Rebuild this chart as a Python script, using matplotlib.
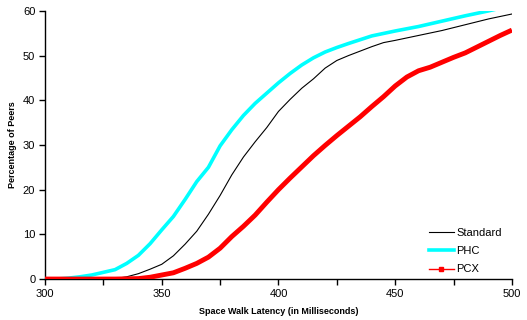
import matplotlib
matplotlib.use("Agg")
import matplotlib.pyplot as plt
from matplotlib.lines import Line2D
from matplotlib.ticker import MultipleLocator

plt.rcParams['font.family'] = ['Liberation Sans', 'DejaVu Sans']

# Data (latency in ms, cumulative % of peers)
std_x = [300, 320, 330, 335, 340, 345, 350, 355, 360, 365, 370, 375, 380, 385, 390, 395,
         400, 405, 410, 415, 420, 425, 430, 435, 440, 445, 450, 460, 470, 480, 490, 500]
std_y = [0, 0, 0.1, 0.5, 1.2, 2.2, 3.3, 5.2, 7.8, 10.7, 14.5, 18.7, 23.3, 27.3, 30.7, 33.9,
         37.5, 40.2, 42.7, 44.8, 47.2, 48.9, 50.0, 51.0, 52.0, 52.9, 53.4, 54.5, 55.6, 56.9, 58.2, 59.3]

phc_x = [300, 305, 310, 315, 320, 325, 330, 335, 340, 345, 350, 355, 360, 365, 370, 375,
         380, 385, 390, 395, 400, 405, 410, 415, 420, 425, 430, 440, 450, 460, 470, 480, 490, 495]
phc_y = [0, 0, 0.2, 0.5, 0.9, 1.5, 2.1, 3.5, 5.3, 7.9, 11.0, 14.0, 17.8, 21.8, 25.0, 29.8,
         33.4, 36.6, 39.3, 41.6, 43.9, 46.0, 47.9, 49.5, 50.8, 51.8, 52.7, 54.4, 55.5, 56.5, 57.7, 58.9, 60.0, 60.6]

pcx_x = [300, 330, 340, 345, 350, 355, 360, 365, 370, 375, 380, 385, 390, 395, 400, 405,
         410, 415, 420, 425, 430, 435, 440, 445, 450, 455, 460, 465, 470, 475, 480, 485, 490, 495, 500]
pcx_y = [0, 0, 0.1, 0.4, 0.9, 1.4, 2.4, 3.5, 4.9, 6.9, 9.5, 11.8, 14.3, 17.2, 20.0, 22.6,
         25.1, 27.6, 29.9, 32.1, 34.2, 36.3, 38.6, 40.8, 43.2, 45.2, 46.6, 47.4, 48.5, 49.6, 50.6, 51.9, 53.2, 54.5, 55.7]

fig = plt.figure(figsize=(5.27, 3.2), dpi=100)
ax = fig.add_axes([0.0854, 0.128, 0.886, 0.838])

ax.plot(std_x, std_y, color="black", linewidth=0.8, zorder=2)
ax.plot(phc_x, phc_y, color="#00ffff", linewidth=2.6, zorder=2)
ax.plot(pcx_x, pcx_y, color="#ff0000", linewidth=3.5, solid_capstyle="butt", zorder=3)

ax.set_xlim(300, 500)
ax.set_ylim(0, 60)
ax.yaxis.set_major_locator(MultipleLocator(10))
ax.set_xticks([300, 325, 350, 375, 400, 425, 450, 475, 500])
ax.set_xticklabels(["300", "", "350", "", "400", "", "450", "", "500"])

for s in ["top", "right"]:
    ax.spines[s].set_visible(False)
ax.spines["left"].set_linewidth(1.0)
ax.spines["bottom"].set_linewidth(1.0)
ax.tick_params(direction="out", length=4, width=1, labelsize=8, colors="black", pad=3)

ax.set_xlabel("Space Walk Latency (in Milliseconds)", fontsize=6.5, fontweight="bold", labelpad=6)
ax.set_ylabel("Percentage of Peers", fontsize=6.5, fontweight="bold", labelpad=4)

handles = [
    Line2D([], [], color="black", linewidth=0.8),
    Line2D([], [], color="#00ffff", linewidth=2.6),
    Line2D([], [], color="#ff0000", linewidth=1, marker="s", markersize=3),
]
ax.legend(handles, ["Standard", "PHC", "PCX"], loc="lower right", bbox_to_anchor=(1.0, -0.02),
          frameon=False, fontsize=8, handlelength=2.3, handletextpad=0.2, labelspacing=0.75)

fig.savefig("out.png", dpi=100)
